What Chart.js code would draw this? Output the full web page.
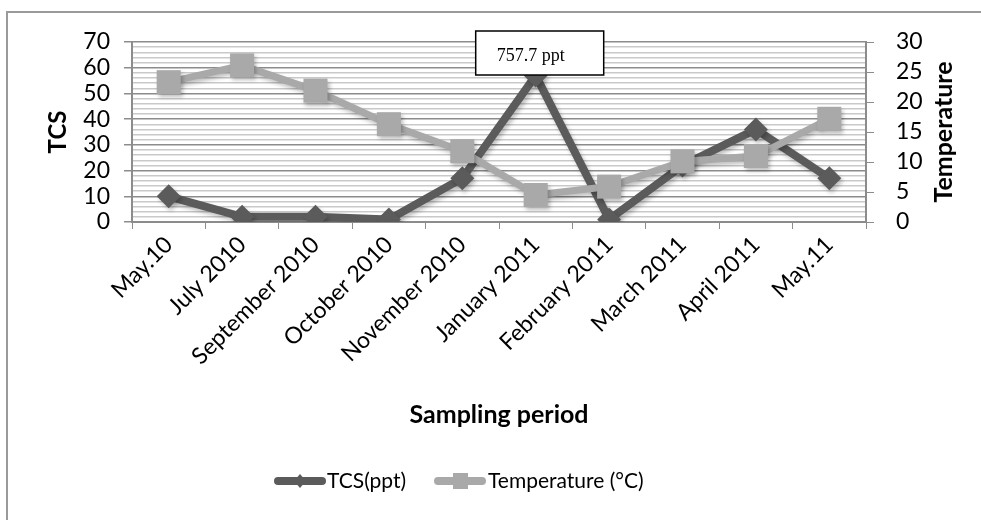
<!DOCTYPE html>
<html>
<head>
<meta charset="utf-8">
<script src="https://cdn.jsdelivr.net/npm/chart.js@4.4.1/dist/chart.umd.min.js"></script>
<style>
  html, body { margin: 0; padding: 0; background: #fff; overflow: hidden; }
  #wrap { width: 981px; height: 520px; position: relative; }
</style>
</head>
<body>
<div id="wrap"><canvas id="chart" width="981" height="520"></canvas></div>
<script>
const labels = ['May.10', 'July 2010', 'September 2010', 'October 2010', 'November 2010',
  'January 2011', 'February 2011', 'March 2011', 'April 2011', 'May.11']
const tcs = [10, 2, 2, 1, 17, 57, 1, 22, 36, 17]
const temperature = [23.3, 26.1, 21.9, 16.3, 11.8, 4.5, 5.9, 10.1, 11, 17.2]
const tcsTicks = [0, 10, 20, 30, 40, 50, 60, 70]
const tempTicks = [0, 5, 10, 15, 20, 25, 30]
const peakNote = '757.7 ppt'

const dark = '#5b5b5b'
const light = '#a9a9a9'
const font = 'Lato'

// Excel-like soft shadow under the series
const shadowPlugin = {
  id: 'shadow',
  beforeDatasetsDraw(chart) {
    const ctx = chart.ctx
    ctx.save()
    ctx.shadowColor = 'rgba(0,0,0,0.25)'
    ctx.shadowBlur = 4
    ctx.shadowOffsetX = 2
    ctx.shadowOffsetY = 3
  },
  afterDatasetsDraw(chart) {
    chart.ctx.restore()
  }
}

// legend sample: thick line with the marker in the middle
function drawSample(ctx, x, y, colour, style) {
  ctx.strokeStyle = colour; ctx.fillStyle = colour
  ctx.lineWidth = 8; ctx.lineCap = 'round'
  ctx.beginPath(); ctx.moveTo(x + 4, y); ctx.lineTo(x + 48, y); ctx.stroke()
  ctx.beginPath()
  if (style === 'diamond') {
    ctx.moveTo(x + 26, y - 7); ctx.lineTo(x + 32, y); ctx.lineTo(x + 26, y + 7); ctx.lineTo(x + 20, y)
  } else {
    ctx.rect(x + 19, y - 8, 15, 16)
  }
  ctx.closePath(); ctx.fill()
}

// frame, right axis title (reads bottom to top), peak note and legend
const extrasPlugin = {
  id: 'extras',
  afterDraw(chart) {
    const ctx = chart.ctx
    const area = chart.chartArea
    ctx.save()
    ctx.strokeStyle = '#9a9a9a'
    ctx.lineWidth = 2
    ctx.beginPath()
    ctx.moveTo(7, 600); ctx.lineTo(7, 12); ctx.lineTo(1000, 12)
    ctx.stroke()

    // right axis title
    ctx.save()
    ctx.translate(944, (area.top + area.bottom) / 2)
    ctx.rotate(-Math.PI / 2)
    ctx.fillStyle = '#000'
    ctx.font = 'bold 25px "' + font + '"'
    ctx.textAlign = 'center'
    ctx.textBaseline = 'middle'
    ctx.fillText('Temperature', 0, 0)
    ctx.restore()

    // note over the January 2011 peak
    const x = chart.scales.x.getPixelForValue(5) + 4
    const top = area.top - 11
    const w = 128, h = 44
    ctx.fillStyle = '#fff'
    ctx.fillRect(x - w / 2, top, w, h)
    ctx.strokeStyle = '#000'
    ctx.lineWidth = 1.5
    ctx.strokeRect(x - w / 2, top, w, h)
    ctx.fillStyle = '#000'
    ctx.font = '18px "Liberation Serif"'
    ctx.textBaseline = 'alphabetic'
    ctx.fillText(peakNote, x - w / 2 + 21, top + 30)

    // legend
    const ly = 481
    ctx.font = '21px "' + font + '"'
    ctx.textBaseline = 'middle'
    drawSample(ctx, 274, ly, dark, 'diamond')
    ctx.fillStyle = '#000'
    ctx.fillText(chart.data.datasets[0].label, 327, ly)
    drawSample(ctx, 434, ly, light, 'square')
    ctx.fillStyle = '#000'
    ctx.fillText(chart.data.datasets[1].label, 488, ly)
    ctx.restore()
  }
}

const chart = new Chart(document.getElementById('chart'), {
  type: 'line',
  data: {
    labels: labels,
    datasets: [
      {
        label: 'TCS(ppt)',
        data: tcs,
        yAxisID: 'y',
        borderColor: dark,
        backgroundColor: dark,
        borderWidth: 8,
        pointStyle: 'rectRot',
        pointRadius: 12,
        pointBorderWidth: 0,
        tension: 0,
        order: 2
      },
      {
        label: 'Temperature (°C)',
        data: temperature,
        yAxisID: 'y1',
        borderColor: light,
        backgroundColor: light,
        borderWidth: 7,
        pointStyle: 'rect',
        pointRadius: 17,
        pointBorderWidth: 0,
        tension: 0,
        order: 1
      }
    ]
  },
  options: {
    responsive: false,
    animation: false,
    layout: { padding: { left: 44, right: 12, top: 42, bottom: 58 } },
    plugins: {
      tooltip: { enabled: false },
      legend: { display: false }
    },
    scales: {
      x: {
        offset: true,
        grid: {
          offset: true,
          drawOnChartArea: false,
          tickLength: 7,
          color: '#8c8c8c'
        },
        border: { color: '#8c8c8c', width: 2 },
        ticks: {
          color: '#000',
          font: { family: font, size: 23 },
          autoSkip: false,
          maxRotation: 45,
          minRotation: 45,
          padding: 2
        },
        title: {
          display: true,
          text: 'Sampling period',
          color: '#000',
          font: { family: font, size: 25, weight: 'bold' },
          padding: { top: 0, bottom: 32 }
        },
        afterFit: s => { s.height = 240 }
      },
      y: {
        position: 'left',
        min: tcsTicks[0],
        max: tcsTicks[tcsTicks.length - 1],
        ticks: {
          stepSize: 2,
          autoSkip: false,
          color: '#000',
          font: { family: font, size: 23 },
          padding: 14,
          callback: v => tcsTicks.includes(v) ? v : ''
        },
        grid: {
          color: c => c.tick && c.tick.value % 10 === 0 ? '#8c8c8c' : '#c9c9c9',
          lineWidth: 1.5,
          tickColor: c => c.tick && c.tick.value % 10 === 0 ? '#8c8c8c' : 'rgba(0,0,0,0)',
          tickLength: 8
        },
        border: { color: '#8c8c8c', width: 2 },
        title: {
          display: true,
          text: 'TCS',
          color: '#000',
          font: { family: font, size: 24, weight: 'bold' },
          padding: 0
        },
        afterFit: s => { s.width = 88 }
      },
      y1: {
        position: 'right',
        min: tempTicks[0],
        max: tempTicks[tempTicks.length - 1],
        ticks: {
          stepSize: 5,
          autoSkip: false,
          color: '#000',
          font: { family: font, size: 23 },
          padding: 22
        },
        grid: {
          drawOnChartArea: false,
          color: '#8c8c8c',
          tickLength: 8
        },
        border: { color: '#8c8c8c', width: 2 },
        afterFit: s => { s.width = 103 }
      }
    }
  },
  plugins: [shadowPlugin, extrasPlugin]
})
</script>
</body>
</html>
